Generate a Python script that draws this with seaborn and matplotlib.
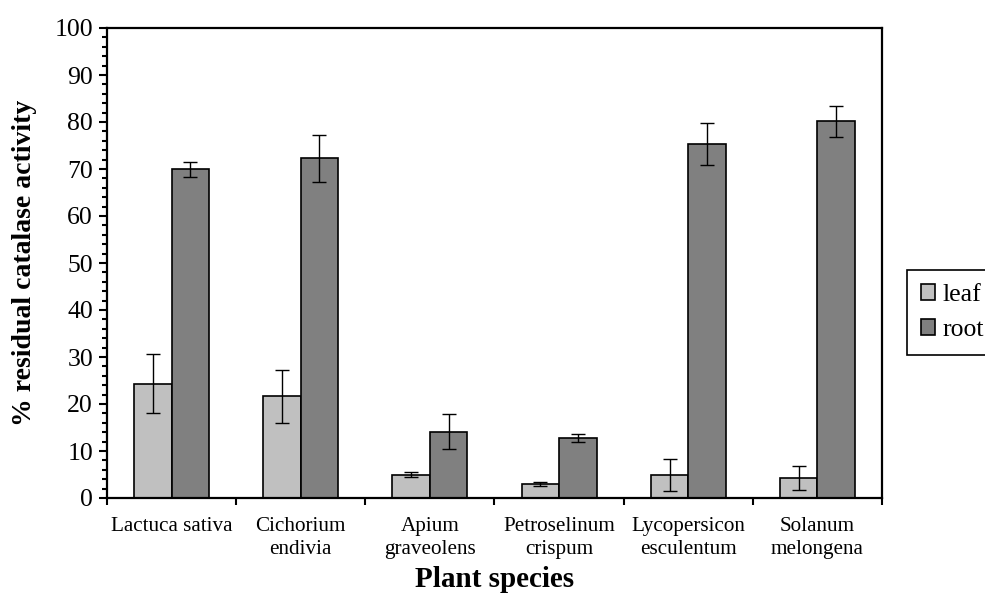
import pandas as pd
import matplotlib
matplotlib.use("Agg")
import matplotlib.pyplot as plt
from matplotlib.ticker import MultipleLocator, FixedLocator
import seaborn as sns

# values
species = ["Lactuca sativa", "Cichorium\nendivia", "Apium\ngraveolens",
           "Petroselinum\ncrispum", "Lycopersicon\nesculentum", "Solanum\nmelongena"]
tissues = ["leaf", "root"]
leaf_mean = [24.3, 21.6, 5.0, 2.9, 4.9, 4.3]
leaf_err = [6.3, 5.7, 0.6, 0.4, 3.5, 2.6]
root_mean = [69.9, 72.3, 14.1, 12.8, 75.3, 80.2]
root_err = [1.6, 5.0, 3.7, 0.9, 4.4, 3.3]
bar_colors = {"leaf": "#C0C0C0", "root": "#808080"}

df = pd.DataFrame({
    "species": species * 2,
    "tissue": ["leaf"] * len(species) + ["root"] * len(species),
    "activity": leaf_mean + root_mean,
    "err": leaf_err + root_err,
})

sns.set_theme(style="white")
plt.rcParams["font.family"] = ["Liberation Serif", "DejaVu Serif"]
plt.rcParams["text.color"] = "black"
plt.rcParams["axes.labelcolor"] = "black"

fig = plt.figure(figsize=(9.85, 5.99), dpi=100)
ax = fig.add_axes([107 / 985, 101 / 599, 775 / 985, 470 / 599])

sns.barplot(data=df, x="species", y="activity", hue="tissue", order=species,
            hue_order=tissues, palette=bar_colors, width=0.58, errorbar=None,
            edgecolor="black", linewidth=1.2, saturation=1, ax=ax)

# error bars on top of each bar, positions taken from the drawn patches
bars = [p for p in ax.patches if p.get_height() > 0]
errs = {(r.tissue, r.species): r.err for r in df.itertuples()}
for i, tissue in enumerate(tissues):
    for j, sp in enumerate(species):
        p = bars[i * len(species) + j]
        ax.errorbar(p.get_x() + p.get_width() / 2, p.get_height(),
                    yerr=errs[(tissue, sp)], fmt="none", ecolor="black",
                    elinewidth=1, capsize=5, capthick=1)

ax.set_ylim(0, 100)
ax.set_xlim(-0.5, len(species) - 0.5)
ax.yaxis.set_major_locator(MultipleLocator(10))
ax.yaxis.set_minor_locator(MultipleLocator(2))
ax.tick_params(axis="y", which="major", direction="out", length=6, width=1.5,
               labelsize=18.5, left=True, pad=4, colors="black")
ax.tick_params(axis="y", which="minor", direction="out", length=3.5, width=1.5,
               left=True, colors="black")
ax.xaxis.set_minor_locator(FixedLocator([k - 0.5 for k in range(len(species) + 1)]))
ax.tick_params(axis="x", which="major", length=0, labelsize=15.2, pad=14,
               colors="black")
ax.tick_params(axis="x", which="minor", direction="out", length=5, width=1.5,
               bottom=True, colors="black")
for lab in ax.get_xticklabels():
    lab.set_linespacing(1.25)

for s in ax.spines.values():
    s.set_visible(True)
    s.set_color("black")
    s.set_linewidth(1.6)

ax.set_xlabel("Plant species", fontsize=21, fontweight="bold", color="black")
ax.xaxis.set_label_coords(0.5, -0.145)
ax.set_ylabel("% residual catalase activity", fontsize=20, fontweight="bold",
              color="black")
ax.yaxis.set_label_coords(-0.09, 0.5)

handles, labels = ax.get_legend_handles_labels()
leg = ax.legend(handles, labels, loc="upper left", bbox_to_anchor=(1.032, 0.485),
                fontsize=18.5, frameon=True, fancybox=False, edgecolor="black",
                framealpha=1, handlelength=0.55, handleheight=0.55,
                handletextpad=0.3, labelspacing=0.5, borderpad=0.55,
                borderaxespad=0)
leg.get_frame().set_linewidth(1.2)
for t in leg.get_texts():
    t.set_color("black")

fig.savefig("out.png", dpi=100)
